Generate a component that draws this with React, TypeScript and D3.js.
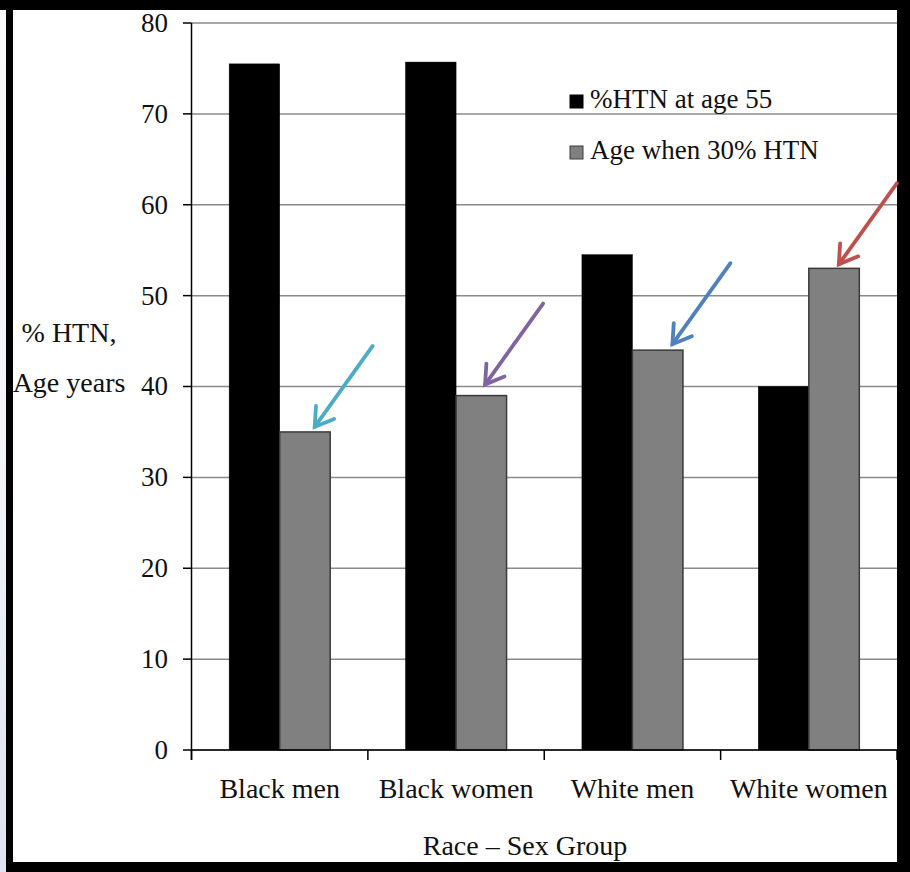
import React from "react";
import * as d3 from "d3";

const categories = ["Black men", "Black women", "White men", "White women"];
const seriesNames = ["%HTN at age 55", "Age when 30% HTN"];
const htnAt55 = [75.5, 75.7, 54.5, 40];
const ageAt30 = [35, 39, 44, 53];
const seriesColors = ["#000000", "#808080"];
const yTicks = [0, 10, 20, 30, 40, 50, 60, 70, 80];
// annotation arrows pointing at the "Age when 30% HTN" bars
const arrowColors = ["#4BACC6", "#8064A2", "#4F81BD", "#C0504D"];
const arrowTipDx = [35, 29, 40, 30];
const arrowTipDy = [-5, -11, -6, -4];

const W = 910;
const H = 872;
const FONT = "'Liberation Serif', 'Times New Roman', serif";

export default function App() {
  const left = 191.5;
  const right = 897;
  const top = 23;
  const bottom = 750;

  const y = d3.scaleLinear().domain([0, 80]).range([bottom, top]);
  const x0 = d3.scaleBand<string>().domain(categories).range([left, right]).padding(0);
  const x1 = d3
    .scaleBand<string>()
    .domain(seriesNames)
    .range([0, x0.bandwidth()])
    .paddingInner(0)
    .paddingOuter(0.746);

  const data = [htnAt55, ageAt30];

  const boundaries = [...categories.map((c) => x0(c) as number), right];

  const arrows = categories.map((c, i) => {
    const bx = (x0(c) as number) + (x1(seriesNames[1]) as number);
    const tx = bx + arrowTipDx[i];
    const ty = y(ageAt30[i]) + arrowTipDy[i];
    const sx = tx + 58;
    const sy = ty - 81;
    const ang = Math.atan2(sy - ty, sx - tx);
    const hl = 21;
    const spread = (32 * Math.PI) / 180;
    const h1 = [tx + hl * Math.cos(ang + spread), ty + hl * Math.sin(ang + spread)];
    const h2 = [tx + hl * Math.cos(ang - spread), ty + hl * Math.sin(ang - spread)];
    return { sx, sy, tx, ty, h1, h2, color: arrowColors[i] };
  });

  return (
    <svg
      width={W}
      height={H}
      style={{ position: "absolute", left: 0, top: 0 }}
      fontFamily={FONT}
    >
      <defs>
        <linearGradient id="glow" x1="0" y1="0" x2="0" y2="1">
          <stop offset="0" stopColor="#fafafa" />
          <stop offset="0.6" stopColor="#f1f2f7" />
          <stop offset="1" stopColor="#dfe3ef" />
        </linearGradient>
      </defs>
      {/* frame */}
      <rect x={0} y={0} width={W} height={H} fill="#000" />
      <rect x={0} y={10} width={6} height={H - 10} fill="url(#glow)" />
      <rect x={13} y={10} width={897 - 13} height={862 - 10} fill="#fff" />

      {/* gridlines */}
      {yTicks.map((t) => (
        <line
          key={"g" + t}
          x1={left}
          x2={right}
          y1={y(t)}
          y2={y(t)}
          stroke="#8a8a8a"
          strokeWidth={1.5}
        />
      ))}

      {/* bars */}
      {categories.map((c, ci) =>
        seriesNames.map((s, si) => {
          const bx = (x0(c) as number) + (x1(s) as number);
          const v = data[si][ci];
          return (
            <rect
              key={c + s}
              x={bx}
              y={y(v)}
              width={x1.bandwidth()}
              height={y(0) - y(v)}
              fill={seriesColors[si]}
              stroke={si === 1 ? "#3a3a3a" : "#000"}
              strokeWidth={si === 1 ? 1.5 : 0.5}
            />
          );
        })
      )}

      {/* y axis */}
      <line x1={left} x2={left} y1={top} y2={760} stroke="#000" strokeWidth={1.5} />
      {yTicks.map((t) => (
        <g key={"t" + t}>
          <line x1={183} x2={left} y1={y(t)} y2={y(t)} stroke="#000" strokeWidth={1.5} />
          <text x={168} y={y(t)} dy="0.33em" textAnchor="end" fontSize={27} fill="#111">
            {t}
          </text>
        </g>
      ))}

      {/* x axis */}
      <line x1={left} x2={right} y1={bottom} y2={bottom} stroke="#000" strokeWidth={1.5} />
      {boundaries.map((b, i) => (
        <line key={"xb" + i} x1={b} x2={b} y1={bottom} y2={760} stroke="#000" strokeWidth={1.5} />
      ))}
      {categories.map((c) => (
        <text
          key={"xl" + c}
          x={(x0(c) as number) + x0.bandwidth() / 2}
          y={798}
          textAnchor="middle"
          fontSize={28}
          fill="#111"
        >
          {c}
        </text>
      ))}

      {/* axis titles */}
      <text x={525} y={855} textAnchor="middle" fontSize={28} fill="#111">
        Race – Sex Group
      </text>
      <text x={69} y={342} textAnchor="middle" fontSize={28} fill="#111">
        % HTN,
      </text>
      <text x={69} y={392} textAnchor="middle" fontSize={28} fill="#111">
        Age years
      </text>

      {/* legend */}
      {seriesNames.map((s, i) => (
        <g key={"lg" + s}>
          <rect
            x={570}
            y={95 + i * 51}
            width={13}
            height={13}
            fill={seriesColors[i]}
            stroke={i === 1 ? "#3a3a3a" : "#000"}
            strokeWidth={1}
          />
          <text x={590} y={108 + i * 51} fontSize={27} fill="#111">
            {s}
          </text>
        </g>
      ))}

      {/* arrows */}
      {arrows.map((a, i) => (
        <g key={"ar" + i} stroke={a.color} strokeWidth={3.8} strokeLinecap="round" fill="none">
          <line x1={a.sx} y1={a.sy} x2={a.tx} y2={a.ty} />
          <polyline points={`${a.h1[0]},${a.h1[1]} ${a.tx},${a.ty} ${a.h2[0]},${a.h2[1]}`} />
        </g>
      ))}
    </svg>
  );
}
